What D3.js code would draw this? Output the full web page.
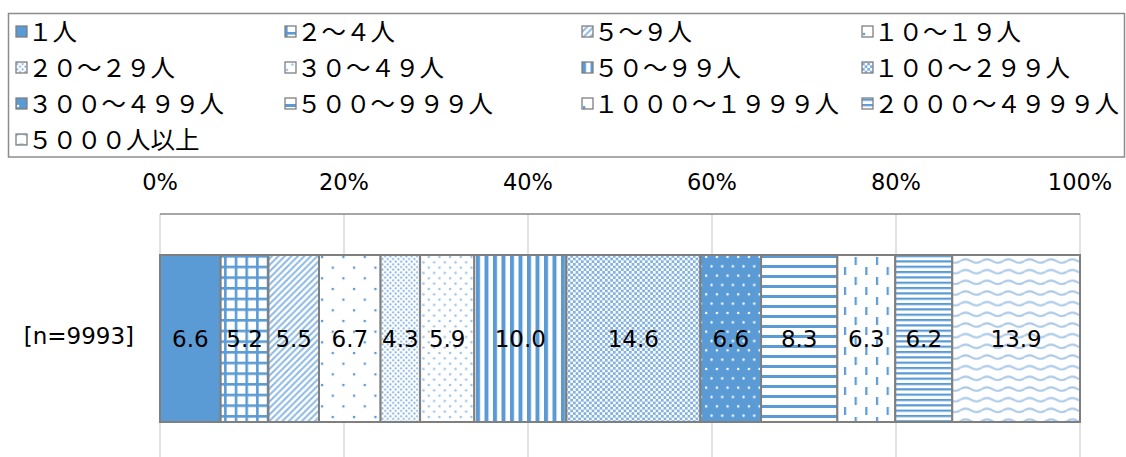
<!DOCTYPE html>
<html>
<head>
<meta charset="utf-8">
<script src="https://cdn.jsdelivr.net/npm/d3@7"></script>
<style>
  body { margin: 0; background: #fff; }
  svg { display: block; }
</style>
</head>
<body>
<svg id="chart" width="1126" height="457"></svg>
<script>
"use strict";

// legend / series names (full-width digits as in the original)
const categories = [
  "１人", "２～４人", "５～９人", "１０～１９人",
  "２０～２９人", "３０～４９人", "５０～９９人", "１００～２９９人",
  "３００～４９９人", "５００～９９９人", "１０００～１９９９人", "２０００～４９９９人",
  "５０００人以上"
];
const values = [6.6, 5.2, 5.5, 6.7, 4.3, 5.9, 10.0, 14.6, 6.6, 8.3, 6.3, 6.2, 13.9];
const rowLabels = ["[n=9993]"];
const tickValues = [0, 20, 40, 60, 80, 100];

const blue = "#5b9bd5";
const light = "#9dc3e6";

function translate(x, y) {
  return "translate(" + x + "," + y + ")";
}

const svg = d3.select("#chart");
const defs = svg.append("defs");

// each pattern: size w,h, background, and a drawing callback
function pattern(id, w, h, bg, drawFn) {
  let p = defs.append("pattern")
    .attr("id", id)
    .attr("patternUnits", "userSpaceOnUse")
    .attr("width", w)
    .attr("height", h);
  p.append("rect").attr("width", w).attr("height", h).attr("fill", bg);
  drawFn(p, w, h);
  return "url(#" + id + ")";
}

function dots(p, pts, r, col) {
  pts.forEach(([x, y]) => {
    p.append("circle").attr("cx", x).attr("cy", y).attr("r", r).attr("fill", col);
  });
}

const u = 10.67;
const fills = [
  blue,
  pattern("p1", u, u, "#fff", (p, w, h) => {
    p.append("rect").attr("width", w).attr("height", 2.6).attr("fill", blue);
    p.append("rect").attr("width", 2.6).attr("height", h).attr("fill", blue);
  }),
  pattern("p2", 6.5, 6.5, "#fff", (p) => {
    p.append("path")
      .attr("d", "M-2,2 L2,-2 M0,6.5 L6.5,0 M4.5,8.5 L8.5,4.5")
      .attr("stroke", "#8cb9e2").attr("stroke-width", 2);
  }),
  pattern("p3", 2 * u, 2 * u, "#fff", (p) => {
    dots(p, [[2, 2], [2 + u, 2 + u]], 1.3, blue);
  }),
  pattern("p4", 5.33, 5.33, "#fff", (p) => {
    dots(p, [[1.3, 1.3], [4, 4]], 1.05, "#7fb0de");
  }),
  pattern("p5", u, u, "#fff", (p) => {
    dots(p, [[2, 2], [2 + u / 2, 2 + u / 2]], 1.25, light);
  }),
  pattern("p6", 8.5, 8.5, "#fff", (p) => {
    p.append("rect").attr("x", 0).attr("width", 4).attr("height", 8.5).attr("fill", blue);
  }),
  pattern("p7", 5.33, 5.33, "#fff", (p) => {
    p.append("rect").attr("width", 2.67).attr("height", 2.67).attr("fill", "#7fb0de");
    p.append("rect").attr("x", 2.67).attr("y", 2.67).attr("width", 2.67).attr("height", 2.67).attr("fill", "#7fb0de");
  }),
  pattern("p8", u, u * 1.75, blue, (p) => {
    dots(p, [[2, 2], [2 + u / 2, 2 + u * 0.875]], 1.2, "#fff");
  }),
  pattern("p9", 10, 10, "#fff", (p) => {
    p.append("rect").attr("y", 0).attr("width", 10).attr("height", 3).attr("fill", blue);
  }),
  pattern("p10", 2 * u, 20, "#fff", (p) => {
    p.append("rect").attr("x", 1).attr("y", 2).attr("width", 2.2).attr("height", 8).attr("fill", blue);
    p.append("rect").attr("x", 1 + u).attr("y", 12).attr("width", 2.2).attr("height", 8).attr("fill", blue);
  }),
  pattern("p11", 5.33, 5.33, "#fff", (p) => {
    p.append("rect").attr("width", 5.33).attr("height", 2.2).attr("fill", blue);
  }),
  pattern("p12", 2 * u, u, "#fff", (p) => {
    p.append("path")
      .attr("d", "M0,6 Q5.33,2.5 10.67,6 T21.33,6")
      .attr("fill", "none").attr("stroke", "#a9c8e8").attr("stroke-width", 2);
  })
];

// ---------- legend ----------
const legendX = [16, 285, 582, 862];
const legend = svg.append("g");
legend.append("rect")
  .attr("x", 8.5).attr("y", 13.5)
  .attr("width", 1116).attr("height", 143.5)
  .attr("fill", "none").attr("stroke", "#8c8c8c").attr("stroke-width", 1.5);

const item = legend.selectAll("g.item")
  .data(categories)
  .enter()
  .append("g")
  .attr("class", "item")
  .attr("transform", (d, i) => translate(legendX[i % 4], 32 + Math.floor(i / 4) * 36));

item.append("rect")
  .attr("x", 0).attr("y", -6)
  .attr("width", 11).attr("height", 11)
  .attr("fill", (d, i) => fills[i])
  .attr("stroke", "#7f7f7f").attr("stroke-width", 1.3);

item.append("text")
  .attr("x", 12)
  .attr("dy", "0.36em")
  .style("font-family", "'Noto Sans CJK JP', sans-serif")
  .style("font-size", "24.5px")
  .attr("fill", "#000")
  .text((d) => d);

// ---------- plot ----------
const x = d3.scaleLinear().domain([0, 100]).range([160, 1080]);
const y = d3.scaleBand().domain(rowLabels).range([255, 422]).padding(0);
const total = d3.sum(values);
const cum = d3.cumsum(values);
const segs = values.map((v, i) => ({
  v: v,
  i: i,
  x0: ((cum[i] - v) / total) * 100,
  x1: (cum[i] / total) * 100
}));

const font = "'DejaVu Sans', Verdana, sans-serif";

// gridlines
svg.append("g")
  .selectAll("line")
  .data(tickValues)
  .enter()
  .append("line")
  .attr("x1", (d) => x(d)).attr("x2", (d) => x(d))
  .attr("y1", 214).attr("y2", 457)
  .attr("stroke", "#d9d9d9").attr("stroke-width", 1.5);

// top axis line
svg.append("line")
  .attr("x1", x(0)).attr("x2", x(100))
  .attr("y1", 214).attr("y2", 214)
  .attr("stroke", "#898989").attr("stroke-width", 1.5);

// tick labels
svg.append("g")
  .selectAll("text")
  .data(tickValues)
  .enter()
  .append("text")
  .attr("x", (d) => x(d))
  .attr("y", 190)
  .attr("text-anchor", "middle")
  .style("font-family", font)
  .style("font-size", "22.5px")
  .attr("fill", "#000")
  .text((d) => d + "%");

// bars
const row = svg.append("g").attr("transform", translate(0, y(rowLabels[0])));
const bh = y.bandwidth();
row.selectAll("rect")
  .data(segs)
  .enter()
  .append("rect")
  .attr("x", (d) => x(d.x0))
  .attr("width", (d) => x(d.x1) - x(d.x0))
  .attr("y", 0)
  .attr("height", bh)
  .attr("fill", (d) => fills[d.i])
  .attr("stroke", "#7f7f7f")
  .attr("stroke-width", 2);

row.selectAll("text.val")
  .data(segs)
  .enter()
  .append("text")
  .attr("class", "val")
  .attr("x", (d) => (x(d.x0) + x(d.x1)) / 2)
  .attr("y", bh / 2)
  .attr("dy", "0.36em")
  .attr("text-anchor", "middle")
  .style("font-family", font)
  .style("font-size", "23px")
  .attr("fill", "#000")
  .text((d) => d3.format(".1f")(d.v));

svg.append("text")
  .attr("x", 134)
  .attr("y", y(rowLabels[0]) + bh / 2 - 3)
  .attr("dy", "0.36em")
  .attr("text-anchor", "end")
  .style("font-family", font)
  .style("font-size", "23px")
  .attr("fill", "#000")
  .text(rowLabels[0]);
</script>
</body>
</html>
